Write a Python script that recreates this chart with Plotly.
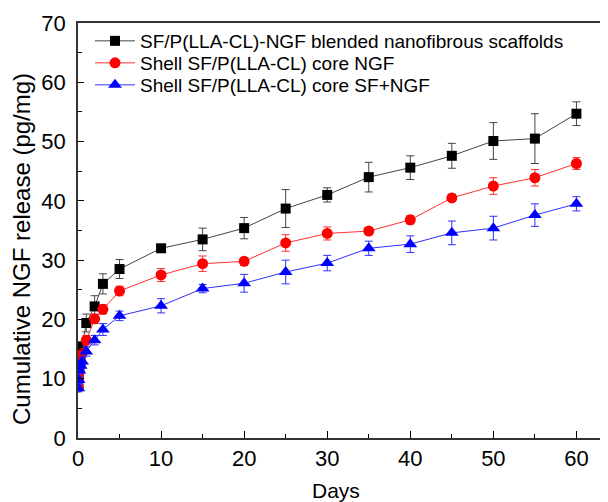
import plotly.graph_objects as go

days = [0.04, 0.08, 0.17, 0.33, 0.5, 1, 2, 3, 5, 10, 15, 20, 25, 30, 35, 40, 45, 50, 55, 60]

blend = [9.0, 10.8, 12.5, 14.2, 15.4, 19.4, 22.2, 26.0, 28.5, 32.0, 33.5, 35.4, 38.7, 41.0, 44.0, 45.6, 47.6, 50.1, 50.5, 54.7]
blend_err = [0.8, 0.8, 0.8, 0.8, 0.8, 1.5, 1.8, 1.7, 1.6, 0.6, 1.9, 1.8, 3.2, 1.2, 2.5, 2.0, 2.1, 3.1, 4.2, 2.0]

core_ngf = [8.6, 9.8, 11.2, 12.8, 14.3, 16.5, 20.1, 21.7, 24.8, 27.5, 29.4, 29.8, 32.9, 34.5, 34.9, 36.8, 40.5, 42.5, 43.9, 46.3]
core_ngf_err = [0.6, 0.6, 0.6, 0.6, 0.6, 0.8, 0.8, 0.8, 0.8, 1.1, 1.3, 0.6, 1.4, 1.1, 0.6, 0.7, 0.6, 1.4, 1.4, 1.0]

core_sf = [8.4, 9.8, 11.4, 12.2, 12.9, 14.6, 16.5, 18.3, 20.6, 22.3, 25.2, 26.1, 28.0, 29.5, 32.0, 32.7, 34.6, 35.4, 37.6, 39.5]
core_sf_err = [0.6, 0.6, 0.6, 0.6, 0.6, 0.8, 0.8, 1.0, 0.8, 1.2, 0.7, 1.5, 2.0, 1.3, 1.2, 1.4, 2.0, 2.0, 1.9, 1.2]

names = ["SF/P(LLA-CL)-NGF blended nanofibrous scaffolds",
         "Shell SF/P(LLA-CL) core NGF",
         "Shell SF/P(LLA-CL) core SF+NGF"]

series = [
    (blend, blend_err, names[0], "#000000", "#444444", "square", 10, "legend"),
    (core_ngf, core_ngf_err, names[1], "#ff0000", "#ff3030", "circle", 11, "legend2"),
    (core_sf, core_sf_err, names[2], "#0000ff", "#3030ff", "triangle-up", 12, "legend3"),
]

fig = go.Figure()
for vals, errs, name, mcol, lcol, sym, size, leg in series:
    fig.add_trace(go.Scatter(
        x=days, y=vals, name=name, mode="lines+markers", legend=leg,
        line=dict(color=lcol, width=1),
        marker=dict(color=mcol, symbol=sym, size=size, line=dict(width=0)),
        error_y=dict(type="data", array=errs, visible=True, color=lcol, thickness=1, width=4),
    ))

font_family = "Liberation Sans, Arial, sans-serif"
# the page body has an 8px margin, so the figure is laid out 8px smaller
OFF = 8
W, H = 608 - OFF, 502 - OFF
PL, PR, PT, PB = 78 - OFF, 608 - OFF, 23 - OFF, 438 - OFF
pw, ph = PR - PL, PB - PT

def leg(ycenter):
    return dict(x=(90 - OFF - PL) / pw, y=(PB - (ycenter - OFF)) / ph, xanchor="left", yanchor="middle",
                font=dict(size=19, family=font_family, color="#000"),
                bgcolor="rgba(0,0,0,0)", borderwidth=0, itemwidth=40, itemsizing="trace")

fig.update_layout(
    width=W, height=H,
    margin=dict(l=PL, r=W - PR, t=PT, b=H - PB, autoexpand=False),
    paper_bgcolor="white", plot_bgcolor="white",
    font=dict(family=font_family, color="#000000", size=22),
    showlegend=True,
    legend=leg(41), legend2=leg(63), legend3=leg(85),
    xaxis=dict(range=[0, 63.8], tickvals=[0, 10, 20, 30, 40, 50, 60], automargin=False,
               ticks="inside", ticklen=7, tickwidth=1, tickcolor="#000",
               minor=dict(dtick=5, tick0=0, ticks="inside", ticklen=4, tickcolor="#000", tickwidth=1),
               showline=True, linecolor="#333333", linewidth=1.5, mirror=True,
               showgrid=False, zeroline=False,
               tickfont=dict(size=22)),
    yaxis=dict(range=[0, 70], dtick=10, tick0=0, automargin=False,
               ticks="inside", ticklen=6, tickwidth=1, tickcolor="#000",
               minor=dict(dtick=5, tick0=0, ticks="inside", ticklen=4, tickcolor="#000", tickwidth=1),
               showline=True, linecolor="#333333", linewidth=1.5, mirror=False,
               showgrid=False, zeroline=False, ticklabelstandoff=6,
               tickfont=dict(size=22)),
)
fig.add_annotation(text="Days", xref="paper", yref="paper",
                   x=(336 - OFF - PL) / pw, y=-(490 - OFF - PB) / ph,
                   xanchor="center", yanchor="middle", showarrow=False,
                   font=dict(size=21, family=font_family))
fig.add_annotation(text="Cumulative NGF release (pg/mg)", xref="paper", yref="paper",
                   x=-(PL - (22 - OFF)) / pw, y=(PB - (249 - OFF)) / ph,
                   xanchor="center", yanchor="middle", showarrow=False, textangle=-90,
                   font=dict(size=24, family=font_family))

fig.write_html("out.html")
